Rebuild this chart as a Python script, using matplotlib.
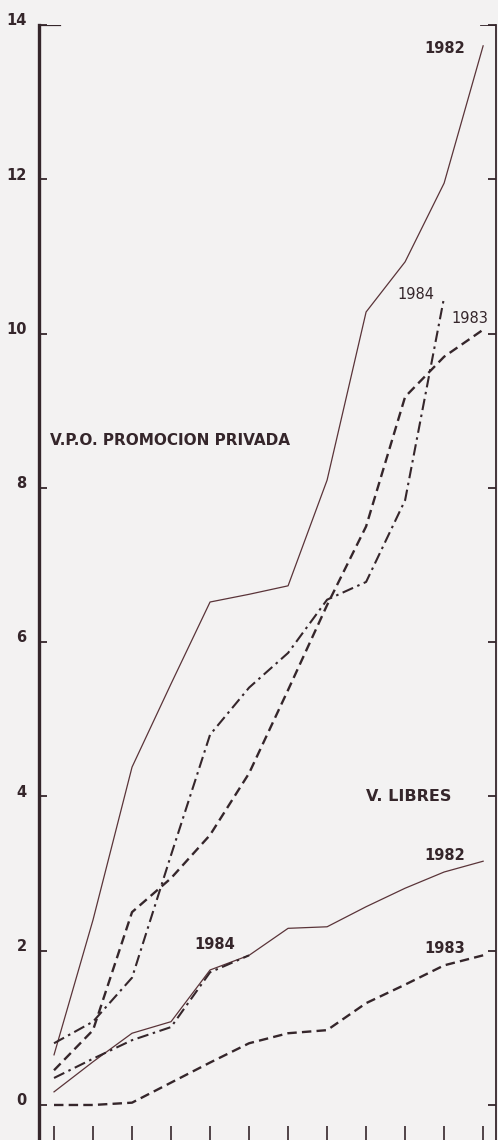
import matplotlib
matplotlib.use("Agg")
import matplotlib.pyplot as plt
import matplotlib.transforms as mtransforms
import numpy as np

# ---- data ----
months = np.arange(12)          # Jan..Dec (no labels on the x axis)
y_ticks = [0, 2, 4, 6, 8, 10, 12, 14]
y_tick_labels = ["0", "2", "4", "6", "8", "10", "12", "14"]

vpo_1982 = [0.65, 2.4, 4.38, 5.46, 6.52, 6.62, 6.73, 8.1, 10.28, 10.93, 11.95, 13.73]
vpo_1983 = [0.45, 0.97, 2.5, 2.94, 3.5, 4.3, 5.38, 6.48, 7.5, 9.18, 9.7, 10.05]
vpo_1984 = [0.8, 1.08, 1.65, 3.24, 4.8, 5.41, 5.86, 6.55, 6.78, 7.84, 10.47]

vl_1982 = [0.17, 0.56, 0.93, 1.08, 1.75, 1.94, 2.29, 2.31, 2.57, 2.81, 3.02, 3.16]
vl_1983 = [0.0, 0.0, 0.03, 0.29, 0.55, 0.8, 0.93, 0.97, 1.32, 1.56, 1.81, 1.94]
vl_1984 = [0.35, 0.6, 0.84, 1.01, 1.72, 1.94]

ink = "#35262b"
line_solid = "#5a3439"
bg = "#f3f2f2"

fig = plt.figure(figsize=(4.98, 11.4), dpi=100, facecolor=bg)
ax = fig.add_axes([39 / 498, 0.0, (496 - 39) / 498, 1 - 25 / 1140])
ax.set_facecolor(bg)

ax.set_xlim(-0.385, 11.33)
ax.set_ylim(-0.454, 14)

dash = (0, (4, 2.2))
dashdot = (0, (5.5, 2.2, 1.2, 2.2))

ax.plot(months, vpo_1982, color=line_solid, lw=0.9, ls="-")
ax.plot(months, vpo_1983, color=ink, lw=1.7, ls=dash)
ax.plot(months[:len(vpo_1984)], vpo_1984, color=ink, lw=1.5, ls=dashdot)

ax.plot(months, vl_1982, color=line_solid, lw=0.9, ls="-")
ax.plot(months, vl_1983, color=ink, lw=1.7, ls=dash)
ax.plot(months[:len(vl_1984)], vl_1984, color=ink, lw=1.5, ls=dashdot)

# spines
for s in ["top", "bottom"]:
    ax.spines[s].set_visible(False)
ax.spines["left"].set_color(ink)
ax.spines["left"].set_linewidth(2.4)
ax.spines["right"].set_color(ink)
ax.spines["right"].set_linewidth(1.3)

# ticks
ax.set_yticks(y_ticks)
ax.set_yticklabels(y_tick_labels)
ax.tick_params(axis="y", which="major", direction="in", length=6, width=1.3,
               color=ink, left=True, right=True, labelleft=True, pad=9,
               labelsize=10.5, labelcolor=ink)
shift = mtransforms.ScaledTranslation(0, 3 / 72, fig.dpi_scale_trans)
for lab in ax.get_yticklabels():
    lab.set_fontweight("bold")
    lab.set_verticalalignment("center")
    lab.set_transform(lab.get_transform() + shift)
ax.set_xticks(months)
ax.set_xticklabels([])
ax.tick_params(axis="x", direction="in", length=10, width=1.2, color=ink,
               bottom=True, top=False)

# top caps of the axes
ax.axhline(14, xmin=0, xmax=0.045, color=ink, lw=1.6)
ax.axhline(14, xmin=0.968, xmax=1.0, color=ink, lw=1.3)

# annotations
tb = dict(color=ink, fontweight="bold")
ax.text(-0.1, 8.62, "V.P.O. PROMOCION PRIVADA", ha="left", va="center", fontsize=11, **tb)
ax.text(8.0, 4.0, "V. LIBRES", ha="left", va="center", fontsize=11.5, **tb)
ax.text(9.5, 13.7, "1982", ha="left", va="center", fontsize=10.5, **tb)
ax.text(9.5, 3.23, "1982", ha="left", va="center", fontsize=10.5, **tb)
ax.text(9.5, 2.03, "1983", ha="left", va="center", fontsize=10.5, **tb)
ax.text(3.6, 2.08, "1984", ha="left", va="center", fontsize=10.5, **tb)
ax.text(8.8, 10.5, "1984", ha="left", va="center", color=ink, fontsize=10.5)
ax.text(10.2, 10.2, "1983", ha="left", va="center", color=ink, fontsize=10.5)

fig.savefig("out.png", dpi=100, facecolor=bg)
